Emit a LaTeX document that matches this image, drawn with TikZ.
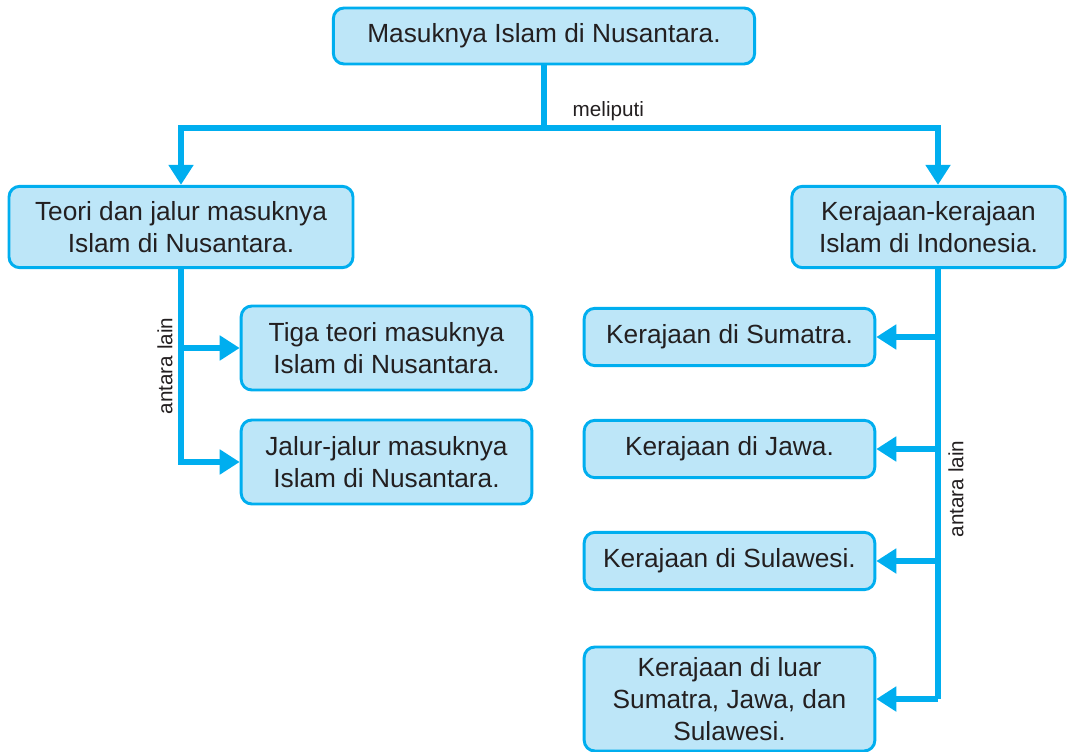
\documentclass[tikz,border=0pt]{standalone}
\usepackage{fontspec}
\setmainfont{Liberation Sans}
\usepackage{xcolor}
\usepackage{tikz}
\usetikzlibrary{positioning, arrows.meta}
\definecolor{islamblue}{HTML}{00AEEF}
\definecolor{lightblue}{HTML}{BDE6F8}
\definecolor{inkgray}{HTML}{231F20}

\begin{document}
\begin{tikzpicture}[x=0.75pt, y=-0.75pt,
    font=\fontsize{19.7}{24}\selectfont, text=inkgray,
    box/.style={fill=lightblue, draw=islamblue, line width=2.2pt, rounded corners=8pt,
                align=center, inner sep=0pt, minimum width=#1},
    box/.default=218pt,
    link/.style={draw=islamblue, line width=3.8pt},
    arr/.style={link, -{Triangle[length=15pt, width=18pt]}},
    note/.style={font=\fontsize{15.5}{18}\selectfont}]
  \useasboundingbox (0,0) rectangle (1070,752);

  \node[box=316pt, minimum height=42pt] (top) at (544,36) {Masuknya Islam di Nusantara.};
  \node[box=258pt, minimum height=61pt] (teori) at (181,227) {Teori dan jalur masuknya\\Islam di Nusantara.};
  \node[box=205pt, minimum height=61pt] (kerajaan) at (928.5,227) {Kerajaan-kerajaan\\Islam di Indonesia.};

  \node[box, minimum height=63pt] (tiga) at (386.5,348) {Tiga teori masuknya\\Islam di Nusantara.};
  \node[box, minimum height=63pt] (jalur) at (386.5,462) {Jalur-jalur masuknya\\Islam di Nusantara.};

  \node[box, minimum height=43pt] (sumatra) at (729.5,337) {Kerajaan di Sumatra.};
  \node[box, minimum height=43pt] (jawa) at (729.5,449) {Kerajaan di Jawa.};
  \node[box, minimum height=43pt] (sulawesi) at (729.5,561) {Kerajaan di Sulawesi.};
  \node[box, minimum height=78pt] (luar) at (729.5,699) {Kerajaan di luar\\Sumatra, Jawa, dan\\Sulawesi.};

  \coordinate (bar) at (544,128);
  \coordinate (kr) at (938,128);
  \coordinate (kdown) at (938,268);

  \draw[link] (top) -- (bar);
  \draw[arr] (bar) -| (teori);
  \draw[arr] (bar) -- (kr) -- (kr |- kerajaan.north);
  \node[note, right=18pt of bar, anchor=south west, yshift=2pt] (meliputi) {meliputi};

  \draw[arr] (teori.south) |- (tiga.west);
  \draw[arr] (teori.south) |- (jalur.west);
  \node[note, rotate=90] (antara1) at (165,366) {antara lain};

  \draw[link] (kdown) -- (kdown |- luar.east);
  \draw[arr] (kdown |- sumatra.east) -- (sumatra.east);
  \draw[arr] (kdown |- jawa.east) -- (jawa.east);
  \draw[arr] (kdown |- sulawesi.east) -- (sulawesi.east);
  \draw[arr] (kdown |- luar.east) -- (luar.east);
  \node[note, rotate=90] (antara2) at (956,489) {antara lain};
\end{tikzpicture}
\end{document}
